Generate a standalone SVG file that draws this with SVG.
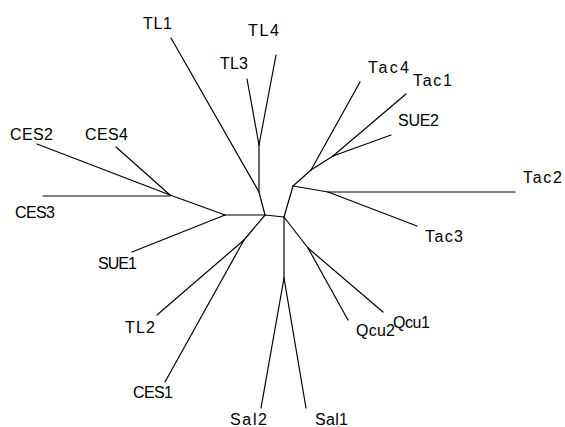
<svg xmlns="http://www.w3.org/2000/svg" width="565" height="427" viewBox="0 0 565 427">
<style>
.e{stroke:#000;stroke-width:1.2;fill:none;stroke-linecap:round}
text{font-family:"Liberation Sans",Arial,sans-serif;font-size:16px;fill:#000}
</style>
<rect width="565" height="427" fill="#fff"/>
<g id="connectors">
<polyline class="e" points="171,38 259,192 265,215"/>
<line class="e" x1="247" y1="79" x2="259" y2="145"/>
<line class="e" x1="276" y1="55" x2="259" y2="145"/>
<line class="e" x1="259" y1="145" x2="259" y2="192"/>
<line class="e" x1="37" y1="144" x2="170" y2="195"/>
<line class="e" x1="43" y1="196" x2="170" y2="196"/>
<line class="e" x1="116" y1="147" x2="170" y2="195"/>
<line class="e" x1="170" y1="195" x2="225" y2="215"/>
<line class="e" x1="132" y1="252" x2="225" y2="215"/>
<line class="e" x1="225" y1="215" x2="265" y2="215"/>
<line class="e" x1="265" y1="215" x2="244" y2="240"/>
<line class="e" x1="244" y1="240" x2="157" y2="315"/>
<line class="e" x1="244" y1="240" x2="165" y2="382"/>
<line class="e" x1="265" y1="215" x2="284" y2="217"/>
<line class="e" x1="284" y1="217" x2="284" y2="278"/>
<line class="e" x1="284" y1="278" x2="261" y2="408"/>
<line class="e" x1="284" y1="278" x2="306" y2="408"/>
<line class="e" x1="284" y1="217" x2="308" y2="248"/>
<line class="e" x1="308" y1="248" x2="348" y2="320"/>
<line class="e" x1="308" y1="248" x2="383" y2="312"/>
<line class="e" x1="284" y1="217" x2="293" y2="186"/>
<line class="e" x1="293" y1="186" x2="328" y2="192"/>
<line class="e" x1="328" y1="192" x2="515" y2="192"/>
<line class="e" x1="328" y1="192" x2="417" y2="226"/>
<line class="e" x1="293" y1="186" x2="311" y2="170"/>
<line class="e" x1="311" y1="170" x2="360" y2="82"/>
<line class="e" x1="311" y1="170" x2="333" y2="156"/>
<line class="e" x1="333" y1="156" x2="406" y2="94"/>
<line class="e" x1="333" y1="156" x2="391" y2="135"/>
</g>
<g id="TL1"><text x="143" y="29" textLength="29" lengthAdjust="spacing">TL1</text></g>
<g id="TL4"><text x="248" y="36" textLength="31" lengthAdjust="spacing">TL4</text></g>
<g id="TL3"><text x="220" y="69" textLength="28" lengthAdjust="spacing">TL3</text></g>
<g id="CES2"><text x="10" y="140" textLength="43" lengthAdjust="spacing">CES2</text></g>
<g id="CES4"><text x="85" y="140" textLength="43" lengthAdjust="spacing">CES4</text></g>
<g id="CES3"><text x="15" y="218" textLength="40" lengthAdjust="spacing">CES3</text></g>
<g id="SUE1"><text x="98" y="269" textLength="39" lengthAdjust="spacing">SUE1</text></g>
<g id="TL2"><text x="125" y="333" textLength="30" lengthAdjust="spacing">TL2</text></g>
<g id="CES1"><text x="133" y="398" textLength="40" lengthAdjust="spacing">CES1</text></g>
<g id="Sal2"><text x="230" y="425" textLength="37" lengthAdjust="spacing">Sal2</text></g>
<g id="Sal1"><text x="315" y="425" textLength="33" lengthAdjust="spacing">Sal1</text></g>
<g id="Qcu2"><text x="356" y="336" textLength="39" lengthAdjust="spacing">Qcu2</text></g>
<g id="Qcu1"><text x="393" y="328" textLength="37" lengthAdjust="spacing">Qcu1</text></g>
<g id="Tac3"><text x="425" y="242" textLength="38" lengthAdjust="spacing">Tac3</text></g>
<g id="Tac2"><text x="523" y="183" textLength="39" lengthAdjust="spacing">Tac2</text></g>
<g id="Tac4"><text x="368" y="73" textLength="41" lengthAdjust="spacing">Tac4</text></g>
<g id="Tac1"><text x="413" y="86" textLength="39" lengthAdjust="spacing">Tac1</text></g>
<g id="SUE2"><text x="398" y="126" textLength="41" lengthAdjust="spacing">SUE2</text></g>
</svg>
